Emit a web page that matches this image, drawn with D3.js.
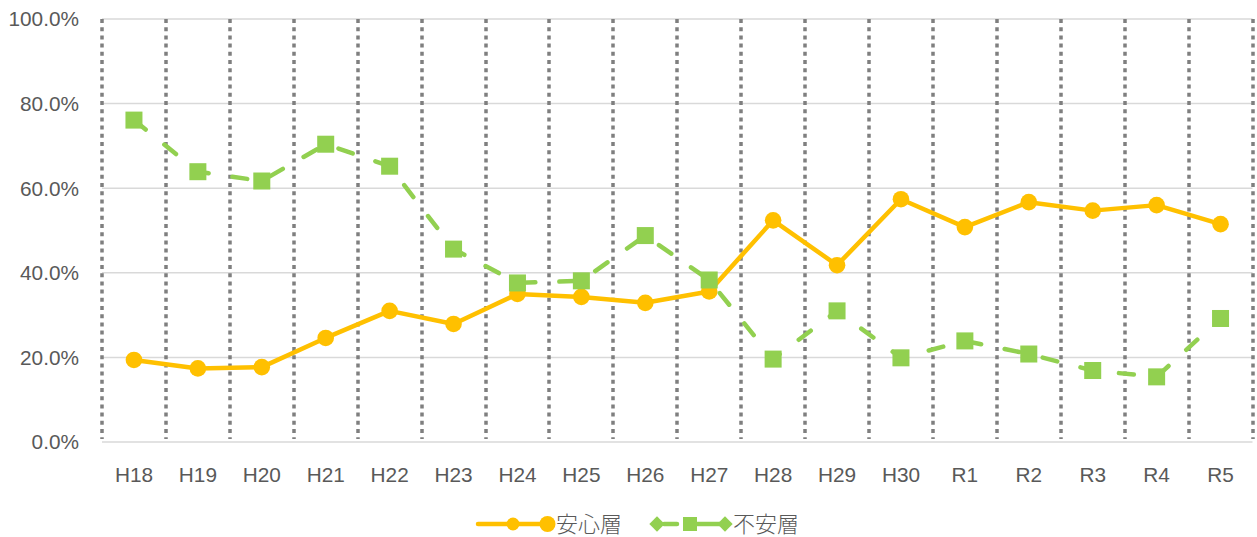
<!DOCTYPE html>
<html>
<head>
<meta charset="utf-8">
<script src="https://cdn.jsdelivr.net/npm/d3@7"></script>
<style>
  body { margin: 0; background: #fff; }
  svg { display: block; }
</style>
</head>
<body>
<div id="chart"></div>
<script>
var categories = ["H18","H19","H20","H21","H22","H23","H24","H25","H26","H27","H28","H29","H30","R1","R2","R3","R4","R5"];
var anshin = [19.4, 17.4, 17.7, 24.6, 31.0, 27.9, 35.0, 34.3, 32.9, 35.6, 52.4, 41.8, 57.4, 50.8, 56.7, 54.7, 56.0, 51.5];
var fuan = [76.1, 63.9, 61.7, 70.4, 65.2, 45.6, 37.6, 38.1, 48.8, 38.3, 19.6, 31.0, 19.9, 23.9, 20.8, 16.9, 15.4, 29.2];
var yTicks = [0, 20, 40, 60, 80, 100];
var seriesNames = ["安心層", "不安層"];

var W = 1257, H = 537;
var plot = {left: 102, right: 1252.5, top: 19, bottom: 442};
var yellow = "#FFC000", green = "#92D050", textColor = "#595959";

var svg = d3.select("#chart").append("svg")
  .attr("width", W)
  .attr("height", H);

var x = d3.scaleBand()
  .domain(categories)
  .range([plot.left, plot.right]);

var y = d3.scaleLinear()
  .domain([0, 100])
  .range([plot.bottom, plot.top]);

// horizontal gridlines
svg.append("g")
  .selectAll("line")
  .data(yTicks)
  .join("line")
    .attr("x1", plot.left)
    .attr("x2", plot.right)
    .attr("y1", d => y(d))
    .attr("y2", d => y(d))
    .attr("stroke", "#d9d9d9")
    .attr("stroke-width", 1.5);

// vertical dotted lines at band edges
var edges = categories.map(d => x(d)).concat([plot.right]);
svg.append("g")
  .selectAll("line")
  .data(edges)
  .join("line")
    .attr("x1", d => Math.round(d))
    .attr("x2", d => Math.round(d))
    .attr("y1", plot.top)
    .attr("y2", plot.bottom - 3)
    .attr("stroke", "#7f7f7f")
    .attr("stroke-width", 3.5)
    .attr("stroke-dasharray", "4,4.2");

// y labels
svg.append("g")
  .selectAll("text")
  .data(yTicks)
  .join("text")
    .attr("x", 79)
    .attr("y", d => y(d))
    .attr("dy", "0.36em")
    .attr("text-anchor", "end")
    .attr("font-family", "Liberation Sans, Arial, sans-serif")
    .attr("font-size", 20.8)
    .attr("fill", textColor)
    .text(d => d.toFixed(1) + "%");

// x labels
svg.append("g")
  .selectAll("text")
  .data(categories)
  .join("text")
    .attr("x", d => x(d) + x.bandwidth() / 2)
    .attr("y", 481.5)
    .attr("text-anchor", "middle")
    .attr("font-family", "Liberation Sans, Arial, sans-serif")
    .attr("font-size", 20.8)
    .attr("fill", textColor)
    .text(d => d);

var cx = (d, i) => x(categories[i]) + x.bandwidth() / 2;

// 安心層
svg.append("path")
  .datum(anshin)
  .attr("fill", "none")
  .attr("stroke", yellow)
  .attr("stroke-width", 4.5)
  .attr("stroke-linejoin", "round")
  .attr("d", d3.line().x(cx).y(d => y(d)));

svg.append("g")
  .selectAll("circle")
  .data(anshin)
  .join("circle")
    .attr("cx", cx)
    .attr("cy", d => y(d))
    .attr("r", 8.3)
    .attr("fill", yellow);

// 不安層
svg.append("path")
  .datum(fuan)
  .attr("fill", "none")
  .attr("stroke", green)
  .attr("stroke-width", 4.5)
  .attr("stroke-linecap", "round")
  .attr("stroke-dasharray", "15,24")
  .attr("d", d3.line().x(cx).y(d => y(d)));

var sq = 17;
svg.append("g")
  .selectAll("rect")
  .data(fuan)
  .join("rect")
    .attr("x", (d, i) => cx(d, i) - sq / 2)
    .attr("y", d => y(d) - sq / 2)
    .attr("width", sq)
    .attr("height", sq)
    .attr("fill", green);

// legend
var leg = svg.append("g");
var ly = 524;
leg.append("line")
  .attr("x1", 478).attr("x2", 548)
  .attr("y1", ly).attr("y2", ly)
  .attr("stroke", yellow).attr("stroke-width", 4.5).attr("stroke-linecap", "round");
leg.append("circle").attr("cx", 513).attr("cy", ly).attr("r", 6.5).attr("fill", yellow);
leg.append("circle").attr("cx", 547.5).attr("cy", ly).attr("r", 8).attr("fill", yellow);
leg.append("text")
  .attr("x", 556).attr("y", ly).attr("dy", "0.36em")
  .attr("font-family", "Noto Sans CJK JP, sans-serif")
  .attr("font-size", 22).attr("font-weight", 300).attr("fill", textColor)
  .text(seriesNames[0]);

var diamond = d3.symbol().type(d3.symbolDiamond2).size(150);
leg.append("line")
  .attr("x1", 664).attr("x2", 677)
  .attr("y1", ly).attr("y2", ly)
  .attr("stroke", green).attr("stroke-width", 4.5).attr("stroke-linecap", "round");
leg.append("line")
  .attr("x1", 697).attr("x2", 720)
  .attr("y1", ly).attr("y2", ly)
  .attr("stroke", green).attr("stroke-width", 4.5);
leg.append("path").attr("d", diamond).attr("transform", "translate(657," + ly + ")").attr("fill", green);
leg.append("path").attr("d", diamond).attr("transform", "translate(725," + ly + ")").attr("fill", green);
leg.append("rect").attr("x", 683).attr("y", ly - 7).attr("width", 14).attr("height", 14).attr("fill", green);
leg.append("text")
  .attr("x", 733).attr("y", ly).attr("dy", "0.36em")
  .attr("font-family", "Noto Sans CJK JP, sans-serif")
  .attr("font-size", 22).attr("font-weight", 300).attr("fill", textColor)
  .text(seriesNames[1]);
</script>
</body>
</html>
